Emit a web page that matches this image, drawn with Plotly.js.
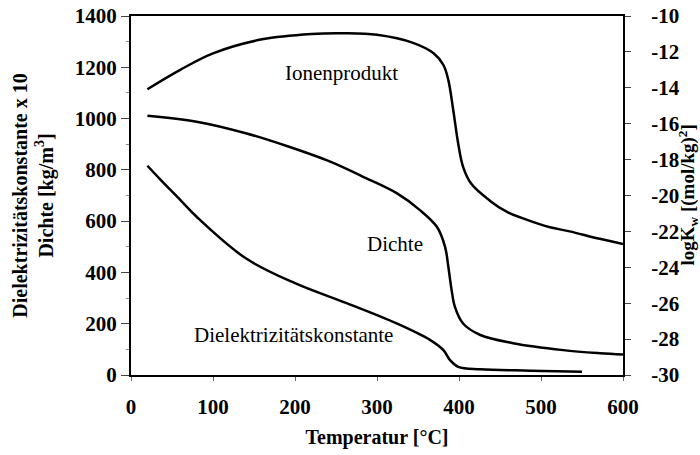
<!DOCTYPE html>
<html><head><meta charset="utf-8">
<script src="https://cdn.plot.ly/plotly-3.0.1.min.js"></script>
<style>html,body{margin:0;padding:0;background:#fff}#c{width:700px;height:455px}</style>
</head><body><div id="c"></div>
<script>
// Ionenprodukt (right axis, logKw)
const tIon = [20, 60, 100, 160, 220, 260, 300, 344, 369, 381, 387, 393, 399, 405, 415, 438, 458, 483, 511, 535, 570, 600];
const logKw = [-14.08, -13.0, -12.08, -11.3, -11.0, -10.96, -11.05, -11.5, -12.08, -12.73, -13.57, -15.25, -17.1, -18.4, -19.35, -20.3, -20.9, -21.36, -21.77, -22.0, -22.4, -22.7];
// Dichte (left axis, kg/m3)
const tDichte = [20, 80, 140, 190, 243, 283, 324, 352, 373, 383, 387, 391, 395, 405, 426, 466, 527, 572, 600];
const dichte = [1011, 988, 943, 893, 832, 773, 709, 644, 578, 500, 422, 331, 266, 201, 156, 124, 97, 85, 80];
// Dielektrizitätskonstante x 10 (left axis)
const tDiel = [20, 35, 60, 80, 140, 200, 263, 324, 365, 381, 389, 399, 426, 487, 550];
const diel10 = [816, 765, 683, 617, 455, 358, 280, 201, 136, 97, 58, 32, 22, 17, 13];

const xTicks = [0, 100, 200, 300, 400, 500, 600];
const y2Ticks = [-10, -12, -14, -16, -18, -20, -22, -24, -26, -28, -30];
const y2TickText = ["-10", "-12", "-14", "-16", "-18", "-20", "-22", "-24", "-26", "-28", "-30"];

const labels = ["Ionenprodukt", "Dichte", "Dielektrizitätskonstante"];
const labelX = [257, 322, 198];
const labelY = [1177, 510, 156];
const rightTitle = "<b>logK<sub>w</sub> [(mol/kg)<sup>2</sup>]</b>";

const ln = {color: "#000", width: 2.5, shape: "spline", smoothing: 1};
const traces = [
  {x: tIon, y: logKw, yaxis: "y2", mode: "lines", line: ln, hoverinfo: "skip"},
  {x: tDichte, y: dichte, mode: "lines", line: ln, hoverinfo: "skip"},
  {x: tDiel, y: diel10, mode: "lines", line: ln, hoverinfo: "skip"}
];
const F = "Liberation Serif";
const annots = labels.map((t, i) => ({
  x: labelX[i], y: labelY[i], xref: "x", yref: "y", text: t, showarrow: false,
  font: {family: F, size: 21, color: "#000"}
}));
annots.push({
  x: 1, y: 0.5, xref: "paper", yref: "paper", xanchor: "center", yanchor: "middle",
  xshift: 65, textangle: -90, text: rightTitle, showarrow: false,
  font: {family: F, size: 19, color: "#000"}
});
const layout = {
  width: 700, height: 455,
  margin: {l: 131, r: 77, t: 16, b: 80},
  paper_bgcolor: "#fff", plot_bgcolor: "#fff",
  showlegend: false,
  font: {family: F, color: "#000", size: 20},
  xaxis: {
    range: [0, 600], tickvals: xTicks,
    showgrid: false, zeroline: false, showline: true, mirror: true,
    linecolor: "#000", linewidth: 2, ticks: "outside", ticklen: 4, tickcolor: "#666",
    ticklabelstandoff: 8,
    tickfont: {family: F, size: 21, weight: "bold"},
    title: {text: "<b>Temperatur [°C]</b>", font: {family: F, size: 20}, standoff: 12}
  },
  yaxis: {
    range: [0, 1400], dtick: 200,
    showgrid: false, zeroline: false, showline: true,
    linecolor: "#000", linewidth: 2, ticks: "outside", ticklen: 8, tickcolor: "#444",
    minor: {dtick: 100, ticklen: 3, tickcolor: "#888", ticks: "outside"},
    tickfont: {family: F, size: 21, weight: "bold"},
    title: {text: "<b>Dielektrizitätskonstante x 10<br>Dichte [kg/m<sup>3</sup>]</b>", font: {family: F, size: 20}, standoff: 16}
  },
  yaxis2: {
    range: [-30, -10], tickvals: y2Ticks, ticktext: y2TickText, overlaying: "y", side: "right",
    showgrid: false, zeroline: false, showline: true,
    linecolor: "#000", linewidth: 2, ticks: "outside", ticklen: 6, tickcolor: "#444",
    ticklabelstandoff: 16,
    tickfont: {family: F, size: 21, weight: "bold"}
  },
  annotations: annots
};
Plotly.newPlot("c", traces, layout, {staticPlot: true, displayModeBar: false});
</script></body></html>
